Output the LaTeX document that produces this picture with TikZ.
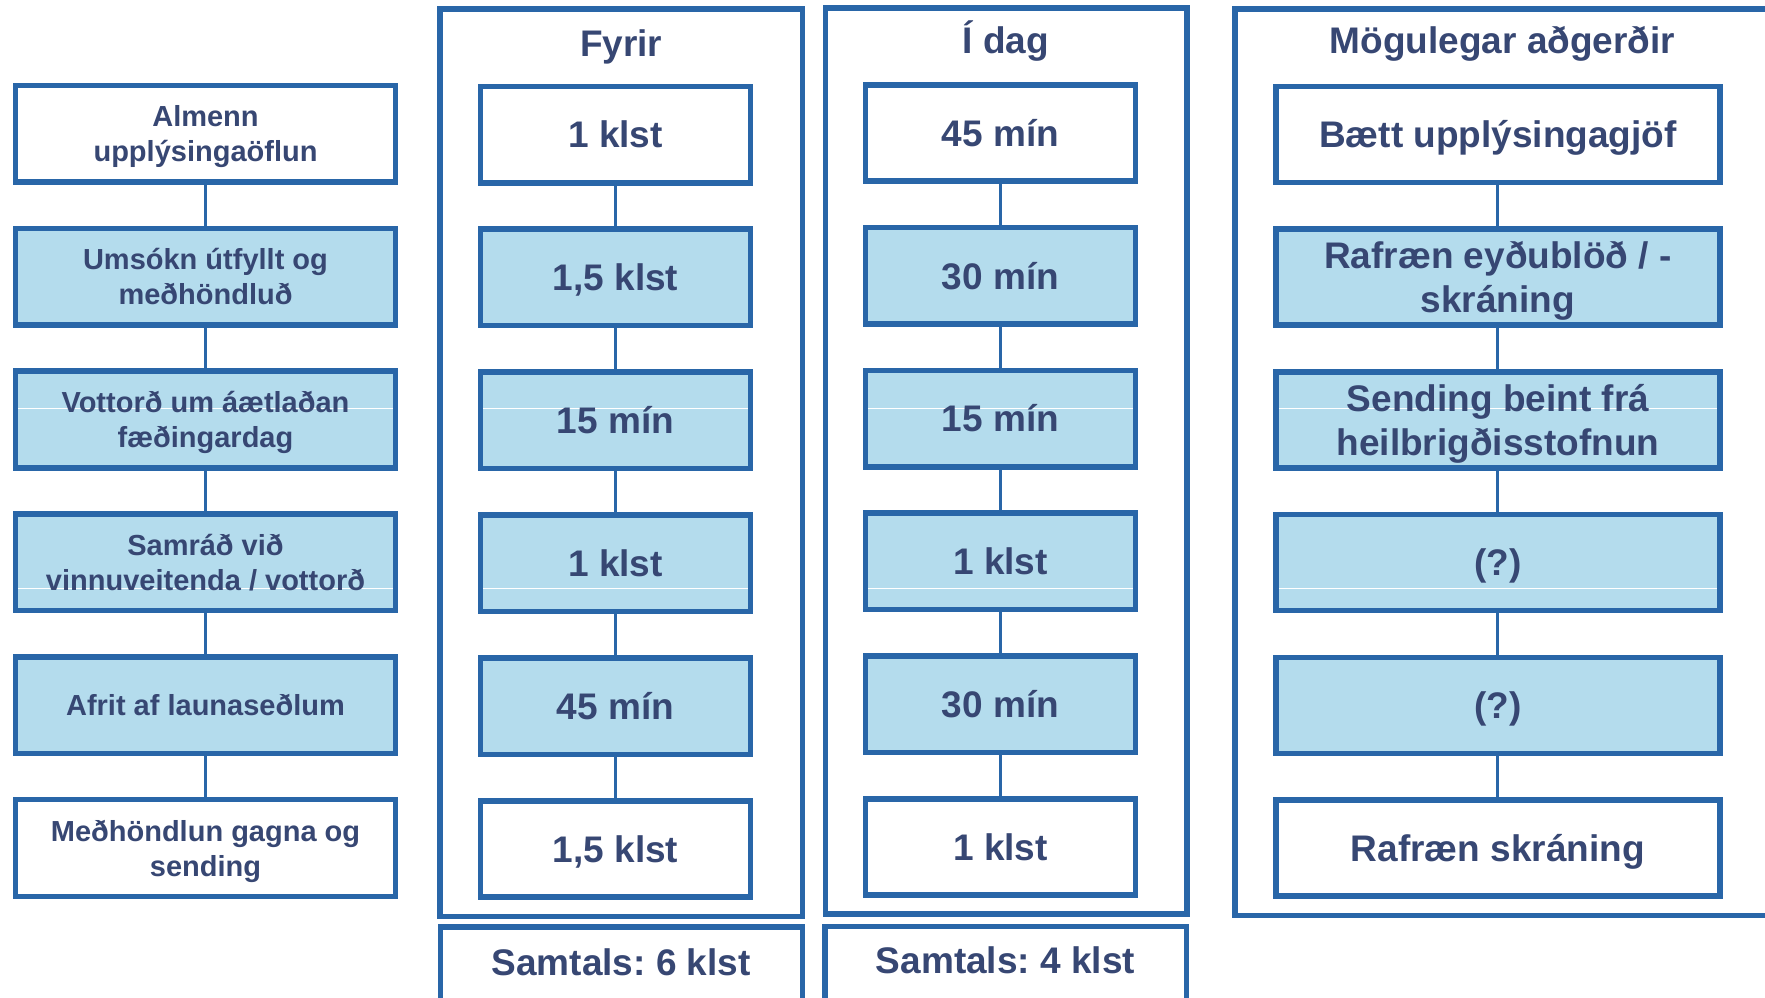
\documentclass[tikz,border=0pt]{standalone}
\usepackage{fontspec}
\setmainfont{Liberation Sans}
\definecolor{bord}{RGB}{41,102,168}
\definecolor{fillb}{RGB}{180,220,237}
\definecolor{txt}{RGB}{55,71,115}
\begin{document}
\frenchspacing
\begin{tikzpicture}[x=0.5pt,y=-0.5pt,
  box/.style={draw=bord, line width=2.8pt, inner sep=0pt, align=center, text=txt},
  wbox/.style={box, fill=white},
  bbox/.style={box, fill=fillb},
  big/.style={font=\bfseries\fontsize{18.5}{22.2}\selectfont},
  small/.style={font=\bfseries\fontsize{14.5}{17.5}\selectfont},
  oneb/.style={text height=13.25pt, text depth=0pt},
  ones/.style={text height=10.4pt, text depth=0pt},
  lcol/.style={minimum width=190pt, minimum height=48.35pt, small},
  tcol/.style={minimum width=135pt, minimum height=48.2pt, big},
  rcol/.style={minimum width=221.9pt, minimum height=48pt, big},
  frame/.style={draw=bord, line width=2.8pt, inner sep=0pt, fill=none},
  title/.style={anchor=base, text=txt, inner sep=0pt, big},
  conn/.style={draw=bord, line width=1.5pt},
  artifact/.style={draw=white, line width=0.5pt},
  artA/.style={path picture={\draw[artifact] (path picture bounding box.west |- artyA) -- (path picture bounding box.east |- artyA);}},
  artB/.style={path picture={\draw[artifact] (path picture bounding box.west |- artyB) -- (path picture bounding box.east |- artyB);}}
]
\useasboundingbox (0,0) rectangle (1765,997);
\clip (0,0) rectangle (1765,997);
\coordinate (artyA) at (0,408.3);
\coordinate (artyB) at (0,588.3);

% column frames
\node[frame, minimum width=181.25pt, minimum height=453.65pt] (fyrirframe) at (621.25,462.65) {};
\node[frame, minimum width=180.75pt, minimum height=453.05pt] (idagframe) at (1006.25,460.75) {};
\node[frame, minimum width=267.5pt, minimum height=453.35pt] (mogframe) at (1502.5,462.15) {};
\node[frame, minimum width=181.1pt, minimum height=41.5pt] (sam1) at (621.4,968.5) {};
\node[frame, minimum width=180.8pt, minimum height=41.85pt] (sam2) at (1005.5,968.15) {};

% titles
\node[title] (tfyrir) at (621.2,56.7) {Fyrir};
\node[title] (tidag) at (1006,53.3) {Í dag};
\node[title] (tmog) at (1502.4,53.3) {Mögulegar aðgerðir};
\node[title] (tsam1) at (621.2,975) {Samtals: 6 klst};
\node[title] (tsam2) at (1005.5,973.3) {Samtals: 4 klst};

% left column
\node[wbox, lcol] (L1) at (205.5,133.9) {Almenn\\\smash{upplýsingaöflun}};
\node[bbox, lcol] (L2) at (205.5,276.7) {Umsókn útfyllt og\\\smash{meðhöndluð}};
\node[bbox, lcol, artA] (L3) at (205.5,419.5) {Vottorð um áætlaðan\\\smash{fæðingardag}};
\node[bbox, lcol, artB] (L4) at (205.5,562.3) {Samráð við\\\smash{vinnuveitenda / vottorð}};
\node[bbox, lcol, ones] (L5) at (205.5,705.1) {Afrit af launaseðlum};
\node[wbox, lcol] (L6) at (205.5,848) {Meðhöndlun gagna og\\\smash{sending}};

% Fyrir column
\node[wbox, tcol, oneb] (F1) at (615.5,134.5) {1 klst};
\node[bbox, tcol, oneb] (F2) at (615.5,277.4) {1,5 klst};
\node[bbox, tcol, oneb, artA] (F3) at (615.5,420.3) {15 mín};
\node[bbox, tcol, oneb, artB] (F4) at (615.5,563.2) {1 klst};
\node[bbox, tcol, oneb] (F5) at (615.5,706.1) {45 mín};
\node[wbox, tcol, oneb] (F6) at (615.5,849) {1,5 klst};

% Í dag column
\node[wbox, tcol, oneb] (D1) at (1000.5,133) {45 mín};
\node[bbox, tcol, oneb] (D2) at (1000.5,275.8) {30 mín};
\node[bbox, tcol, oneb, artA] (D3) at (1000.5,418.6) {15 mín};
\node[bbox, tcol, oneb, artB] (D4) at (1000.5,561.4) {1 klst};
\node[bbox, tcol, oneb] (D5) at (1000.5,704.2) {30 mín};
\node[wbox, tcol, oneb] (D6) at (1000.5,847) {1 klst};

% Mögulegar aðgerðir column
\node[wbox, rcol, oneb] (M1) at (1497.9,134.4) {Bætt upplýsingagjöf};
\node[bbox, rcol] (M2) at (1497.9,277.1) {Rafræn eyðublöð / -\\\smash{skráning}};
\node[bbox, rcol, artA] (M3) at (1497.9,419.8) {Sending beint frá\\\smash{heilbrigðisstofnun}};
\node[bbox, rcol, oneb, artB] (M4) at (1497.9,562.5) {(?)};
\node[bbox, rcol, oneb] (M5) at (1497.9,705.3) {(?)};
\node[wbox, rcol, oneb] (M6) at (1497.9,848) {Rafræn skráning};

% connectors
\foreach \c in {L,F,D,M}{
  \foreach \i [evaluate=\i as \j using int(\i+1)] in {1,...,5}{
    \draw[conn] (\c\i.south) -- (\c\j.north);
  }
}
\end{tikzpicture}
\end{document}
